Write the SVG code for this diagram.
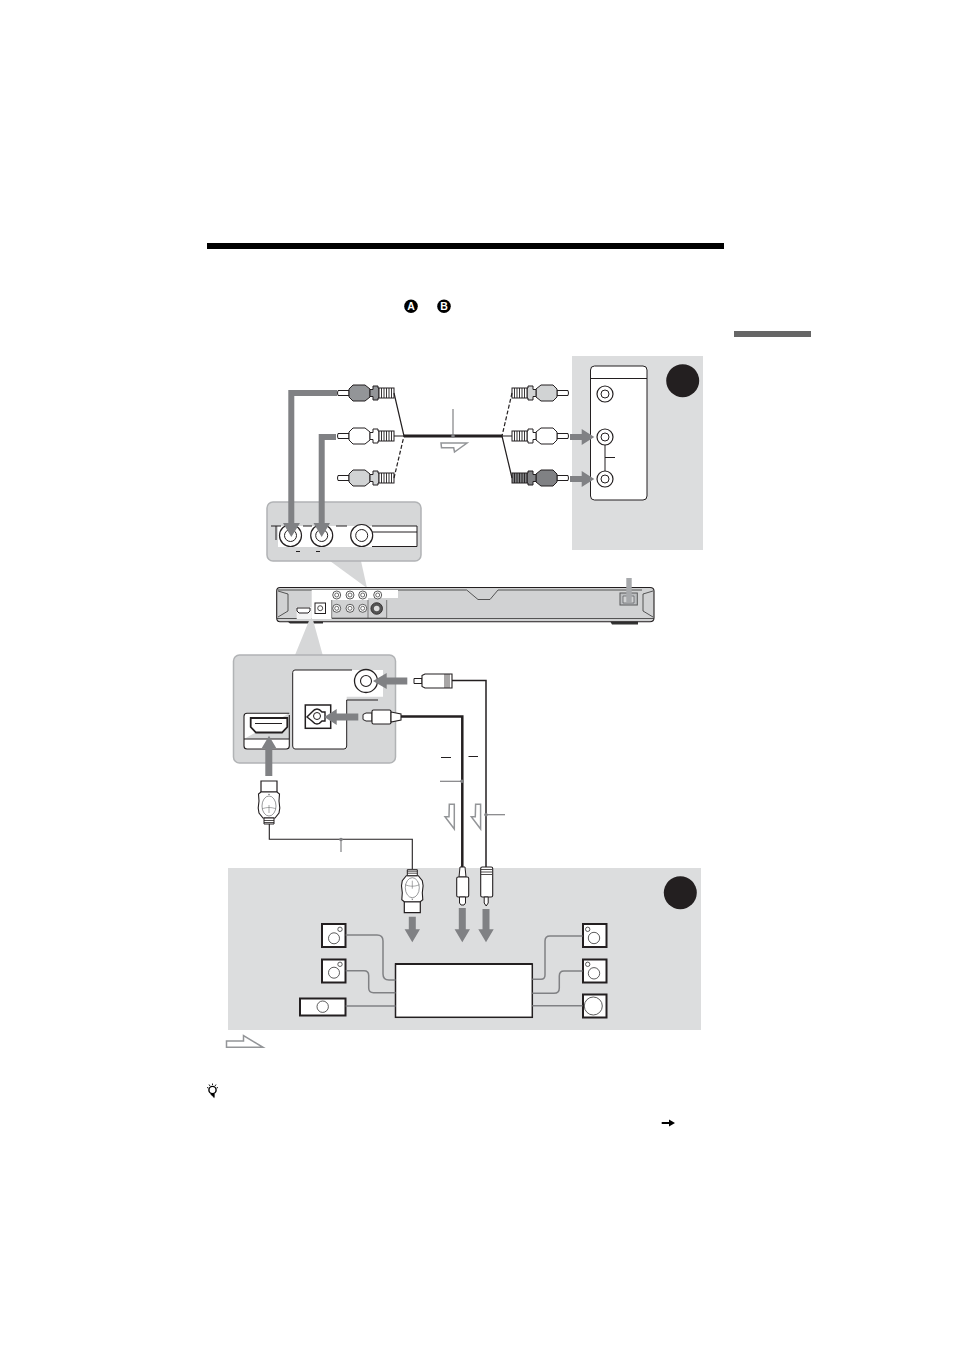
<svg xmlns="http://www.w3.org/2000/svg" width="954" height="1351" viewBox="0 0 954 1351">
<style>
.panel{fill:#dcddde}
.zoom{fill:#d6d7d8;stroke:#b1b3b5;stroke-width:1.5}
.ln{fill:none;stroke:#231f20;stroke-width:1}
.wh{fill:#fff;stroke:#231f20;stroke-width:1}
.spk{fill:#fff;stroke:#231f20;stroke-width:2}
.thin{fill:none;stroke:#333;stroke-width:.8}
.flow{fill:#808184}
.hollow{fill:#fff;stroke:#939598;stroke-width:1.5}
.wire{fill:none;stroke:#808184;stroke-width:1.5}
.tick{fill:none;stroke:#808184;stroke-width:1.2}
.dot{fill:#808184}
.cable{fill:none;stroke:#231f20}
.lab{font-family:"Liberation Sans",Arial,sans-serif;font-weight:700;font-size:10.5px;fill:#fff;text-anchor:middle}
.o{stroke:#231f20;stroke-width:1}
.rib{fill:none;stroke:#231f20;stroke-width:.9}
</style>
<defs>
<g id="jack"><circle r="8" fill="#fff" stroke="#231f20" stroke-width="1.2"/><circle r="4" fill="#fff" stroke="#231f20" stroke-width="1"/></g>
<g id="smalljack"><circle r="4" fill="#fff" stroke="#333" stroke-width=".8"/><circle r="2" fill="none" stroke="#333" stroke-width=".7"/></g>
<path id="rib-lines" class="rib" d="M2.500-5V5M5-5V5M7.500-5V5M10-5V5M12.500-5V5"/>
<path id="tip" class="o" fill="#fff" d="M0-2.500H11V2.500H0Q-1 0 0-2.500Z"/>
<path id="body" class="o" d="M11-4L15-8H27L32-4V4L27 8H15L11 4Z"/>
<path id="ring" class="o" d="M32-3.500H35V-7H40V-5H41V5H40V7H35V3.500H32Z"/>
<g id="plug-white">
<use href="#tip"/><use href="#body" fill="#fff"/><use href="#ring" fill="#fff"/>
<rect class="o" x="41" y="-5" width="15" height="10" fill="#fff"/><use href="#rib-lines" x="41"/>
</g>
<g id="plug-grey">
<use href="#tip"/><use href="#body" fill="#939598"/><use href="#ring" fill="#939598"/>
<rect class="o" x="41" y="-5" width="15" height="10" fill="#fff"/><use href="#rib-lines" x="41"/>
</g>
<g id="plug-light">
<use href="#tip"/><use href="#body" fill="#d1d3d4"/><use href="#ring" fill="#d1d3d4"/>
<rect class="o" x="41" y="-5" width="15" height="10" fill="#fff"/><use href="#rib-lines" x="41"/>
</g>
<g id="plug-dark">
<use href="#tip"/><use href="#body" fill="#808184"/><use href="#ring" fill="#808184"/>
<rect class="o" x="41" y="-5" width="15" height="10" fill="#808184"/><use href="#rib-lines" x="41"/>
</g>
<g id="hdmi">
<path d="M-8 0H8V11H-8Z" fill="#fff" stroke="#231f20" stroke-width="1.2"/>
<path d="M-8 11L-10.500 13L-10 20L-10.800 27L-10 32L-6 37H6L10 32L10.800 27L10 20L10.500 13L8 11Z" fill="#fff" stroke="#231f20" stroke-width="1.100"/>
<ellipse cx="0" cy="25" rx="7" ry="10" fill="none" stroke="#6d6e71" stroke-width=".7"/>
<path d="M-7 28C-3 26 3 26 7 28M0 24V32" fill="none" stroke="#6d6e71" stroke-width=".6"/>
<path d="M-1 14H1L0 12.500Z" fill="#6d6e71"/>
<path d="M-5 37H5V43H-5Z" fill="#fff" stroke="#231f20" stroke-width="1"/>
<path d="M-5 39.500H5M-5 41.500H5" stroke="#231f20" stroke-width=".8"/>
</g>
</defs>

<rect x="207" y="243" width="517" height="6" fill="#000"/>
<rect x="734" y="331" width="77" height="6" fill="#666"/>

<g id="legend-a"><circle cx="411" cy="306.300" r="6.800" fill="#000"/><text class="lab" x="411" y="310">A</text></g>
<g id="legend-b"><circle cx="444" cy="306.300" r="6.800" fill="#000"/><text class="lab" x="444" y="310">B</text></g>

<g id="panel-a">
<rect class="panel" x="572" y="356" width="131" height="194"/>
<circle cx="682.700" cy="380.700" r="16.500" fill="#231f20"/>
<rect class="wh" x="590.500" y="366" width="56.500" height="134" rx="4"/>
<path class="ln" d="M591 378.500H647"/>
<use href="#jack" x="605" y="394"/>
<use href="#jack" x="605" y="437"/>
<use href="#jack" x="605" y="479"/>
<path class="ln" d="M605 445V471M605 457.500H615"/>
</g>

<g id="panel-b">
<rect class="panel" x="228" y="868" width="473" height="162"/>
<circle cx="680.300" cy="892.700" r="16.500" fill="#231f20"/>
</g>

<g id="player-zoom-top">
<path d="M330 561L367 588L361 561Z" fill="#d6d7d8"/>
<rect class="zoom" x="267" y="502" width="154" height="59" rx="6"/>
<path d="M278 526H417V547H278Z" fill="#fff"/>
<path class="ln" d="M372 526H417V546.500H372M372 532H417" />
<path class="ln" d="M271 526H281M276 526V540M303 526H312M336 526H347"/>
<circle cx="290.500" cy="535.500" r="11" fill="#fff" stroke="#231f20" stroke-width="1.200"/><circle cx="290.500" cy="535.500" r="6" fill="#fff" stroke="#231f20"/>
<circle cx="321.700" cy="535.500" r="11" fill="#fff" stroke="#231f20" stroke-width="1.200"/><circle cx="321.700" cy="535.500" r="6" fill="#fff" stroke="#231f20"/>
<circle cx="361.700" cy="535.500" r="11" fill="#fff" stroke="#231f20" stroke-width="1.200"/><circle cx="361.700" cy="535.500" r="6" fill="#fff" stroke="#231f20"/>
<path class="ln" d="M296 551.500H300M316 551.500H320"/>
</g>

<g id="player">
<path d="M287 621H323V623.500H290Z" fill="#333"/>
<path d="M610 621H638V624.500H612Z" fill="#333"/>
<path d="M280 587.500H650Q654 587.500 654 591V618Q654 621.700 650 621.700H280Q276.700 621.700 276.700 618V591Q276.700 587.500 280 587.500Z" fill="#d1d2d3" stroke="#231f20" stroke-width="1.100"/>
<path class="thin" d="M278 590H466.700L478 599.500H490L498 590H642"/>
<path class="thin" d="M277 618.500H654M278 591L288 594V611L278 617M653 591L643 594V611L653 617"/>
<path d="M311.700 590H398V598H368V600H331.700V619H311.700Z" fill="#fff"/>
<rect x="296.700" y="607" width="15" height="12" fill="#f4f4f4"/>
<path d="M331.700 600V618H368V600M368 618H386.700V600" fill="none" stroke="#555" stroke-width=".7"/>
<use href="#smalljack" x="336.700" y="595"/><use href="#smalljack" x="350" y="595"/><use href="#smalljack" x="362.700" y="595"/><use href="#smalljack" x="377.700" y="595"/>
<use href="#smalljack" x="336.700" y="608.300"/><use href="#smalljack" x="350" y="608.300"/><use href="#smalljack" x="362.700" y="608.300"/>
<circle cx="376.700" cy="608.500" r="5.800" fill="#555" stroke="#231f20" stroke-width=".8"/><circle cx="376.700" cy="608.500" r="2.800" fill="#ddd"/>
<rect x="315" y="603" width="10.500" height="10.500" fill="#fff" stroke="#231f20"/><circle cx="320.200" cy="608.200" r="2.500" fill="none" stroke="#231f20" stroke-width=".8"/>
<path d="M297 608H310V611L308 613H299L297 611Z" fill="#fff" stroke="#231f20"/>
<rect x="620" y="593" width="17.300" height="12" fill="#bcbec0" stroke="#58595b"/>
<path d="M623 596H634V603H623Z" fill="#d1d2d3" stroke="#58595b" stroke-width=".7"/>
<rect x="626.300" y="578" width="5.400" height="24" fill="#a7a9ac"/>
</g>

<g id="player-zoom-bottom">
<path d="M295 655L309.300 620H313L322.700 655Z" fill="#d6d7d8"/>
<rect class="zoom" x="233.500" y="655" width="162" height="108" rx="6"/>
<path d="M292.700 670H383V696.700H346.700V749H292.700Z" fill="#fff"/>
<path class="ln" d="M352 670H295Q292.700 670 292.700 672.500V746Q292.700 749 295 749H344Q346.700 749 346.700 746V700H378"/>
<circle cx="366" cy="681" r="11.500" fill="#fff" stroke="#231f20" stroke-width="1.300"/><circle cx="366" cy="681" r="5.500" fill="#fff" stroke="#231f20" stroke-width="1.100"/>
<rect x="305.300" y="705" width="25.400" height="23.300" fill="#fff" stroke="#231f20" stroke-width="1.500"/>
<path d="M312 712Q317 706 322 712H325V721H322Q317 727 312 721L307 717Z" fill="#fff" stroke="#231f20" stroke-width="1.400"/><circle cx="317" cy="716" r="3.500" fill="#fff" stroke="#231f20" stroke-width="1"/>
<path d="M289.300 713.300H247Q244 713.300 244 716.300V746Q244 749 247 749H286.300Q289.300 749 289.300 746V739H244M289.300 739V715" fill="#fff" stroke="#231f20" stroke-width="1.100"/>
<path d="M250.700 718H287.300V727L282 732.500H256L250.700 727Z" fill="#fff" stroke="#231f20" stroke-width="1.800"/>
<path d="M255 723.500H282" stroke="#231f20" stroke-width="1"/>
</g>

<g id="plugs">
<use id="plug-l1" href="#plug-grey" transform="translate(338 393)"/>
<use id="plug-l2" href="#plug-white" transform="translate(338 436)"/>
<use id="plug-l3" href="#plug-light" transform="translate(338 478)"/>
<use id="plug-r1" href="#plug-light" transform="translate(568 393) scale(-1 1)"/>
<use id="plug-r2" href="#plug-white" transform="translate(568 436) scale(-1 1)"/>
<use id="plug-r3" href="#plug-dark" transform="translate(568 478) scale(-1 1)"/>
<g id="plug-coax" transform="translate(414 681)"><path d="M0-2.500H8V2.500H0Z" fill="#fff" stroke="#231f20"/><path d="M8-5.500L11-7H38V7H11L8 5.500Z" fill="#fff" stroke="#231f20" stroke-width="1.100"/><path d="M31-7V7M33-7V7M35-7V7" stroke="#231f20" stroke-width=".8"/></g>
<g id="plug-opt" transform="translate(363 717)"><path d="M0-2.500L3-4H9V4H3L0 2.500Z" fill="#fff" stroke="#231f20"/><rect x="9" y="-7" width="19" height="14" rx="1.500" fill="#fff" stroke="#231f20" stroke-width="1.100"/><path d="M28-5L38-3V3L28 5Z" fill="#fff" stroke="#231f20" stroke-width="1.100"/></g>
<use id="plug-hdmi-top" href="#hdmi" transform="translate(269 781)"/>
<use id="plug-hdmi-bottom" href="#hdmi" transform="translate(412.300 912.700) scale(1 -1)"/>
<g id="plug-opt-v"><path d="M459 877L460 867H465L466 877Z" fill="#fff" stroke="#231f20"/><rect x="456.700" y="877" width="12" height="20" rx="1.500" fill="#fff" stroke="#231f20" stroke-width="1.100"/><path d="M459.500 897H465.500V903L464 905H461L459.500 903Z" fill="#fff" stroke="#231f20"/></g>
<g id="plug-coax-v"><rect x="480.700" y="867" width="12" height="30" rx="1.500" fill="#fff" stroke="#231f20" stroke-width="1.100"/><path d="M481 869.500H492M481 872H492M481 874.500H492" stroke="#231f20" stroke-width=".8"/><path d="M484.200 897H488.200V903L486.200 906L484.200 903Z" fill="#fff" stroke="#231f20"/></g>
</g>

<g id="speakers">
<g id="spk-fl"><rect class="spk" x="322" y="924" width="23.500" height="23"/><circle class="thin" cx="334" cy="938.300" r="5.500"/><circle class="thin" cx="340" cy="929.300" r="2.200"/></g>
<g id="spk-sl"><rect class="spk" x="322" y="959.500" width="23.500" height="23"/><circle class="thin" cx="334" cy="972.700" r="5.500"/><circle class="thin" cx="340" cy="964.300" r="2.200"/></g>
<g id="spk-c"><rect class="spk" x="300" y="998.500" width="45.500" height="17"/><circle class="thin" cx="322.700" cy="1006.700" r="5.700"/></g>
<g id="spk-fr"><rect class="spk" x="583" y="924" width="23.500" height="23"/><circle class="thin" cx="594" cy="938" r="5.700"/><circle class="thin" cx="587.700" cy="929.300" r="2.200"/></g>
<g id="spk-sr"><rect class="spk" x="583" y="959.500" width="23.500" height="23"/><circle class="thin" cx="594" cy="973.300" r="5.700"/><circle class="thin" cx="587.700" cy="964.300" r="2.200"/></g>
<g id="spk-sw"><rect class="spk" x="583" y="994.500" width="23.500" height="23"/><circle class="thin" cx="593.300" cy="1006" r="9"/></g>
</g>

<g id="receiver"><rect x="395.500" y="964" width="136.800" height="53.300" fill="#fff" stroke="#231f20" stroke-width="1.500"/><path d="M395 964H532.500" stroke="#231f20" stroke-width="2"/></g>

<g id="connectors">
<path class="cable" stroke-width="1.200" d="M394 393L404 436H394"/>
<path class="cable" stroke-width="1.200" stroke-dasharray="4 2" d="M394 478L404 436"/>
<path class="cable" stroke-width="2.800" d="M404 436H502"/>
<path class="cable" stroke-width="1.200" d="M512 436H502L512 478"/>
<path class="cable" stroke-width="1.200" stroke-dasharray="4 2" d="M512 393L502 436"/>
<path class="tick" d="M453 409V436"/><circle class="dot" cx="453" cy="436" r="1.800"/>
<path class="hollow" d="M441 443H467L454.500 452L453.700 447.800H441.500Z"/>
<path class="cable" stroke-width="1.500" d="M452 680.500H486V867"/>
<path class="cable" stroke-width="2.500" d="M401 716.500H462.300V867"/>
<path class="cable" stroke-width="1.100" d="M269.300 824V839.300H412.300V869"/>
<path class="ln" d="M441 757.500H451M468.500 756.500H478"/>
<path class="tick" d="M440 781.300H462"/><circle class="dot" cx="462" cy="781.300" r="1.800"/>
<path class="tick" d="M486 814.700H505"/><circle class="dot" cx="486" cy="814.700" r="1.800"/>
<path class="tick" d="M341 839.500V852" stroke-width="1.500"/><circle class="dot" cx="341" cy="839.500" r="1.800"/>
<path class="hollow" d="M454.300 804.300H449.300L449 816.700H445L454.300 829Z"/>
<path class="hollow" d="M480.600 804.300H475.600L475.300 816.700H471.300L480.600 829Z"/>
<path class="wire" d="M345.700 935H377Q383 935 383 941V974Q383 980 389 980H395.500"/>
<path class="wire" d="M345.700 970.700H364Q368.700 970.700 368.700 975.500V988Q368.700 992.700 373.500 992.700H395.500"/>
<path class="wire" d="M345.700 1006H395.500"/>
<path class="wire" d="M532.300 979.300H541Q545 979.300 545 975V941Q545 936 550 936H582.500"/>
<path class="wire" d="M532.300 993.300H554Q559.300 993.300 559.300 988V976Q559.300 971 564 971H582.500"/>
<path class="wire" d="M532.300 1005.700H582.500"/>
<path class="flow" d="M337 390H288.300V523H283L291.300 537L300 523H294.300V396H337Z"/>
<path class="flow" d="M336 434H318.700V523H313.500L321.700 537L330 523H324.700V440H336Z"/>
<path class="flow" d="M570 434H581.700V429L594.300 437L581.700 445V440H570Z"/>
<path class="flow" d="M570 476H581.700V471L594.300 479L581.700 487V482H570Z"/>
<path class="flow" d="M407.300 677.500H386.700V673L373 681L386.700 689V684.500H407.300Z"/>
<path class="flow" d="M358.300 713.500H336.700V709L324.300 717L336.700 725V720.500H358.300Z"/>
<path class="flow" d="M265.300 776H272.300V748.500H276.500L269 735.700L261.500 748.500H265.300Z"/>
<path class="flow" d="M408.800 916.700H415.800V929.300H420L412.300 942.300L404.600 929.300H408.800Z"/>
<path class="flow" d="M458.800 908H465.800V929.300H470L462.300 942.300L454.600 929.300H458.800Z"/>
<path class="flow" d="M482.500 909H489.500V929.300H493.700L486 942.300L478.300 929.300H482.500Z"/>
</g>

<g id="legend-arrow"><path class="hollow" d="M226.500 1041H243.500V1035.500L263 1047.300H226.500Z"/></g>
<g id="tip-icon" fill="none" stroke="#000">
<circle cx="212.500" cy="1090" r="3.600" stroke-width="1.400"/>
<path d="M210.800 1094H214.200V1097.500L212.500 1096Z" fill="#000" stroke-width=".8"/>
<path d="M207 1087.500L208.500 1088M218 1087.500L216.500 1088M209 1084.500L210 1086M216 1084.500L215 1086M212.500 1083.500V1085" stroke-width=".9"/>
</g>
<path id="ref-arrow" d="M661.700 1122H669V1119.500L675 1123L669 1126.500V1124H661.700Z" fill="#000"/>
</svg>
